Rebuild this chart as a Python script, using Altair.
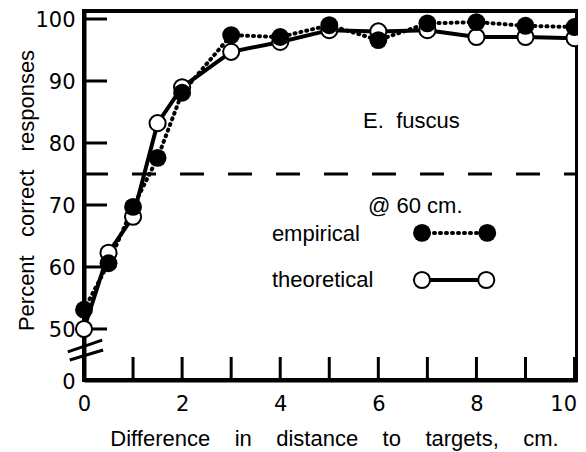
import altair as alt
import pandas as pd

# ---- data ----
x_vals = [0, 0.5, 1, 1.5, 2, 3, 4, 5, 6, 7, 8, 9, 10]
empirical = [53.1, 60.6, 69.7, 77.6, 88.1, 97.4, 97.1, 99.0, 96.6, 99.3, 99.5, 98.9, 98.7]
theoretical = [50.0, 62.3, 68.1, 83.2, 89.0, 94.7, 96.3, 98.2, 98.0, 98.2, 97.1, 97.1, 96.9]

x_label_values = [0, 2, 4, 6, 8, 10]
x_tick_marks = [1, 2, 3, 4, 5, 6, 7, 8, 9, 10]
y_tick_values = [50, 60, 70, 80, 90, 100]
Y_ZERO = 41.77          # position of the "0" label below the axis break
Y_TOP = 101.29
threshold = [75]

# axis-break slashes (data units)
brk_x1 = [-0.33, -0.29]
brk_x2 = [0.37, 0.39]
brk_y1 = [46.3, 45.0]
brk_y2 = [48.2, 46.6]

# in-plot legend / annotations
leg_emp_x = [6.89, 8.22]
leg_emp_y = [65.5, 65.5]
leg_theo_x = [6.89, 8.2]
leg_theo_y = [57.9, 57.9]
ann_text = ["E.\u00a0\u00a0fuscus", "@ 60 cm.", "empirical", "theoretical"]
ann_x = [5.69, 5.79, 3.83, 3.83]
ann_y = [82.4, 68.7, 64.2, 56.8]

W, H = 493, 369
TF = "Liberation Sans, Arial, sans-serif"
NF = "DejaVu Sans"
GAP_X = " " + "\u00a0" * 3
GAP_Y = " " + "\u00a0" * 2

xs = alt.Scale(domain=[0, 10.05], nice=False, zero=False)
ys = alt.Scale(domain=[Y_ZERO, Y_TOP], nice=False, zero=False)

emp_df = pd.DataFrame({"x": x_vals, "y": empirical})
theo_df = pd.DataFrame({"x": x_vals, "y": theoretical})

x_axis = alt.Axis(values=x_label_values, ticks=False, grid=False, domainWidth=4,
                  domainColor="black", labelFont=NF, labelFontSize=21, labelColor="black",
                  labelPadding=13, labelFlush=False,
                  labelAlign={"condition": {"test": "datum.value >= 10", "value": "right"},
                              "value": "center"},
                  labelOffset={"condition": {"test": "datum.value >= 10", "value": 2},
                               "value": 0},
                  title=GAP_X.join(["Difference", "in", "distance", "to", "targets,", "cm."]),
                  titleFont=TF, titleFontSize=22, titleFontWeight="normal", titleColor="black",
                  titleX=250, titleY=65, titleBaseline="alphabetic", titleAlign="center")
y_axis = alt.Axis(values=[Y_ZERO] + y_tick_values, ticks=False, grid=False, domainWidth=4,
                  domainColor="black", labelFont=NF, labelFontSize=21, labelColor="black",
                  labelPadding=9, labelFlush=False, labelOffset=2,
                  labelExpr="datum.value < 45 ? '0' : format(datum.value, 'd')",
                  title=GAP_Y.join(["Percent", "correct", "responses"]),
                  titleFont=TF, titleFontSize=22, titleFontWeight="normal", titleColor="black",
                  titleX=-51, titleY=179, titleBaseline="alphabetic", titleAlign="center",
                  titleAngle=270)

theo_line = alt.Chart(theo_df).mark_line(color="black", strokeWidth=4).encode(
    x=alt.X("x:Q", scale=xs, axis=x_axis),
    y=alt.Y("y:Q", scale=ys, axis=y_axis),
)
emp_line = alt.Chart(emp_df).mark_line(color="black", strokeWidth=4, strokeDash=[1, 5],
                                       strokeCap="round").encode(
    x=alt.X("x:Q", scale=xs), y=alt.Y("y:Q", scale=ys))
theo_pts = alt.Chart(theo_df).mark_point(shape="circle", filled=True, fill="white",
                                         stroke="black", strokeWidth=2, size=260,
                                         opacity=1).encode(
    x=alt.X("x:Q", scale=xs), y=alt.Y("y:Q", scale=ys))
emp_pts = alt.Chart(emp_df).mark_point(shape="circle", filled=True, fill="black",
                                       size=320, opacity=1).encode(
    x=alt.X("x:Q", scale=xs), y=alt.Y("y:Q", scale=ys))

# inward ticks
xt = alt.Chart(pd.DataFrame({"x": x_tick_marks})).mark_rule(color="black", strokeWidth=3).encode(
    x=alt.X("x:Q", scale=xs), y=alt.value(H), y2=alt.value(H - 23))
yt = alt.Chart(pd.DataFrame({"y": y_tick_values})).mark_rule(color="black", strokeWidth=3).encode(
    y=alt.Y("y:Q", scale=ys), x=alt.value(0), x2=alt.value(23))

dash = alt.Chart(pd.DataFrame({"y": threshold})).mark_rule(
    color="black", strokeWidth=3, strokeDash=[24, 24]).encode(
    y=alt.Y("y:Q", scale=ys), x=alt.value(0), x2=alt.value(W))

brk = alt.Chart(pd.DataFrame({"x": brk_x1, "x2": brk_x2, "y": brk_y1, "y2": brk_y2})).mark_rule(
    color="black", strokeWidth=3).encode(
    x=alt.X("x:Q", scale=xs), x2="x2:Q", y=alt.Y("y:Q", scale=ys), y2="y2:Q")

leg_e = pd.DataFrame({"x": leg_emp_x, "y": leg_emp_y})
leg_t = pd.DataFrame({"x": leg_theo_x, "y": leg_theo_y})
leg_e_line = alt.Chart(leg_e).mark_line(color="black", strokeWidth=4, strokeDash=[1, 5],
                                        strokeCap="round").encode(
    x=alt.X("x:Q", scale=xs), y=alt.Y("y:Q", scale=ys))
leg_e_pts = alt.Chart(leg_e).mark_point(shape="circle", filled=True, fill="black", size=320,
                                        opacity=1).encode(
    x=alt.X("x:Q", scale=xs), y=alt.Y("y:Q", scale=ys))
leg_t_line = alt.Chart(leg_t).mark_line(color="black", strokeWidth=4).encode(
    x=alt.X("x:Q", scale=xs), y=alt.Y("y:Q", scale=ys))
leg_t_pts = alt.Chart(leg_t).mark_point(shape="circle", filled=True, fill="white", stroke="black",
                                        strokeWidth=2, size=260, opacity=1).encode(
    x=alt.X("x:Q", scale=xs), y=alt.Y("y:Q", scale=ys))

ann = alt.Chart(pd.DataFrame({"t": ann_text, "x": ann_x, "y": ann_y})).mark_text(
    font=TF, fontSize=22, align="left", baseline="alphabetic", color="black").encode(
    x=alt.X("x:Q", scale=xs), y=alt.Y("y:Q", scale=ys), text="t:N")

chart = alt.layer(
    theo_line, emp_line, dash, xt, yt, brk, theo_pts, emp_pts,
    leg_e_line, leg_t_line, leg_e_pts, leg_t_pts, ann
).properties(
    width=W, height=H,
    autosize=alt.AutoSizeParams(type="none"),
    padding={"left": 76, "top": 3, "right": 1, "bottom": 72},
).configure_view(stroke="black", strokeWidth=4)

chart.save("out.html", embed_options={"renderer": "svg", "actions": False})
